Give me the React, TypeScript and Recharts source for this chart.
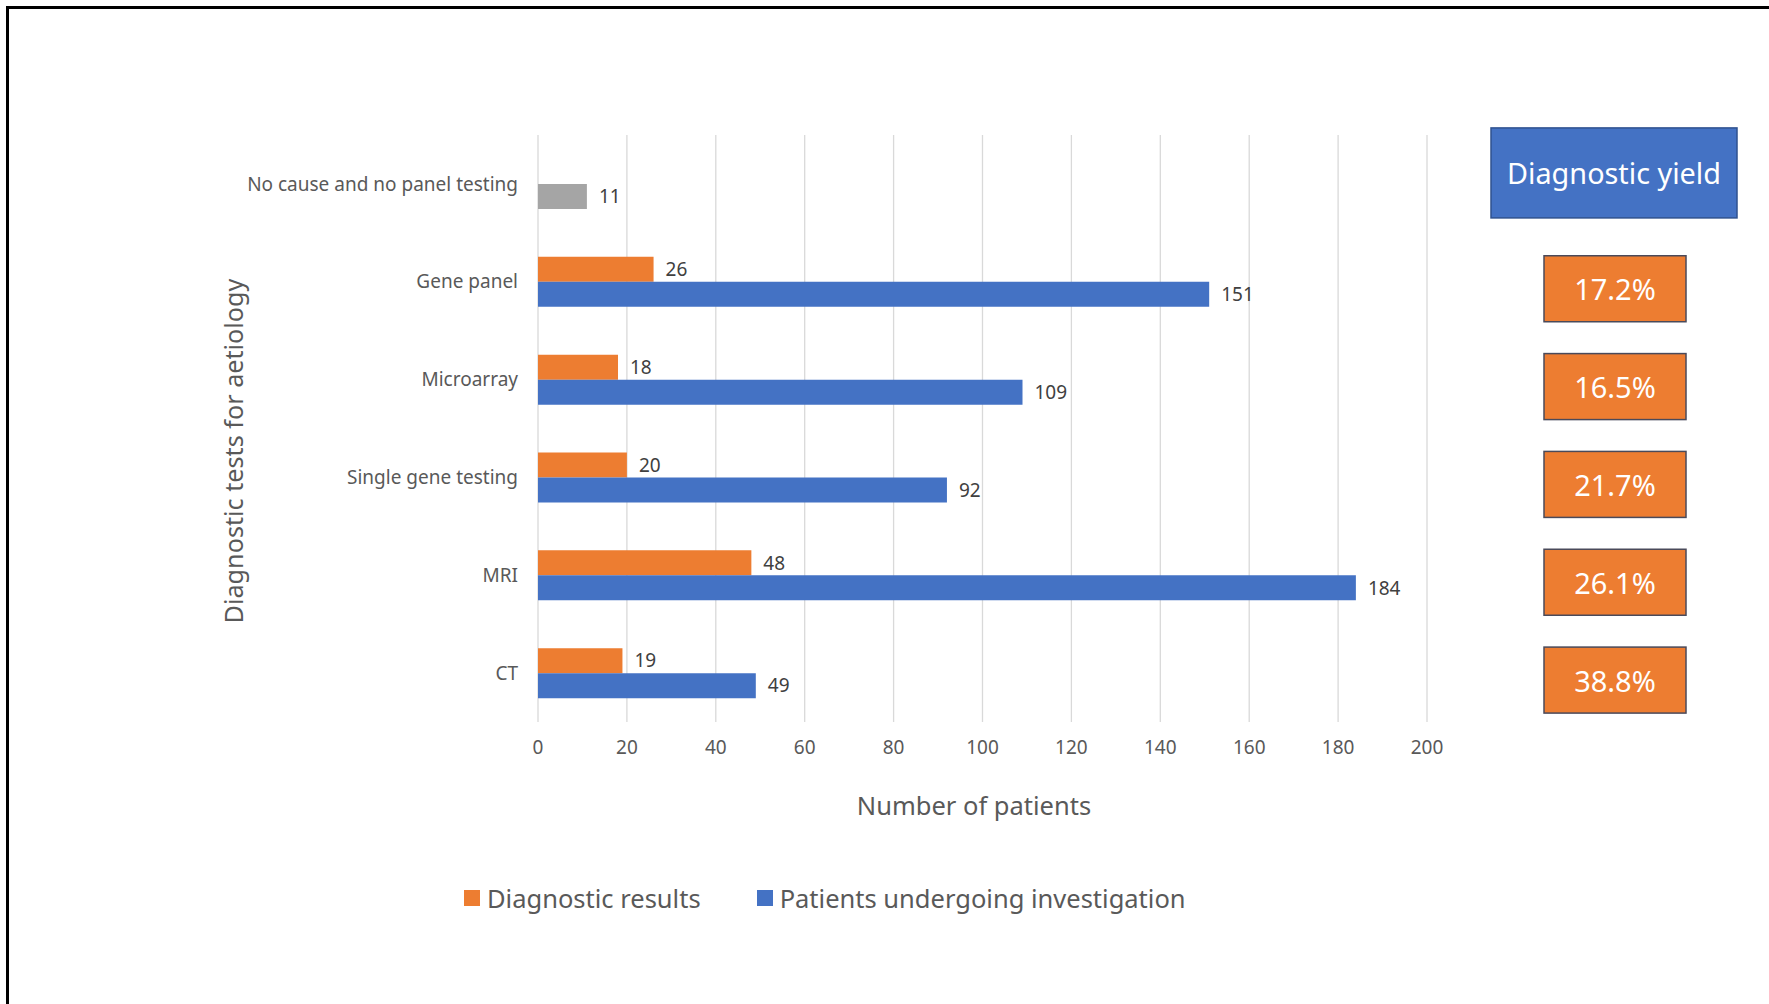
import React from "react";
import {
  BarChart,
  Bar,
  XAxis,
  YAxis,
  CartesianGrid,
  Cell,
  LabelList,
  Legend,
  Label,
} from "recharts";

const categories = [
  "No cause and no panel testing",
  "Gene panel",
  "Microarray",
  "Single gene testing",
  "MRI",
  "CT",
];
const diagnosticResults = [null, 26, 18, 20, 48, 19];
const patientsInvestigated = [11, 151, 109, 92, 184, 49];
const yieldLabels = ["Diagnostic yield", "17.2%", "16.5%", "21.7%", "26.1%", "38.8%"];
const xTicks = [0, 20, 40, 60, 80, 100, 120, 140, 160, 180, 200];

const ORANGE = "#ED7D31";
const BLUE = "#4472C4";
const GREY = "#A5A5A5";
const TEXT = "#595959";
const FONT = "'Noto Sans', sans-serif";

const data = categories.map((name, i) => ({
  name,
  results: diagnosticResults[i],
  patients: patientsInvestigated[i],
}));

// boxes on the right: header for the first row, yield % for the rest
const YieldTick = (props: any) => {
  const { x, y, payload } = props;
  const i = categories.indexOf(payload.value);
  if (i < 0) return null;
  if (i === 0) {
    return (
      <g>
        <rect x={x + 64} y={y - 56} width={246} height={90} fill={BLUE} stroke="#2F528F" strokeWidth={1.5} />
        <text x={x + 187} y={y - 11} textAnchor="middle" dominantBaseline="central" fill="#fff" fontSize={28.8} fontFamily={FONT}>
          {yieldLabels[i]}
        </text>
      </g>
    );
  }
  return (
    <g>
      <rect x={x + 117} y={y - 26} width={142} height={66} fill={ORANGE} stroke="#4a4a5a" strokeWidth={1.5} />
      <text x={x + 188} y={y + 7} textAnchor="middle" dominantBaseline="central" fill="#fff" fontSize={29} fontFamily={FONT}>
        {yieldLabels[i]}
      </text>
    </g>
  );
};

const LegendContent = () => (
  <div style={{ display: "flex", alignItems: "center", fontFamily: FONT, fontSize: 25.5, color: TEXT }}>
    <span style={{ width: 16, height: 16, background: ORANGE, marginRight: 7 }} />
    <span style={{ marginRight: 56 }}>Diagnostic results</span>
    <span style={{ width: 16, height: 16, background: BLUE, marginRight: 7 }} />
    <span>Patients undergoing investigation</span>
  </div>
);

const App = () => {
  return (
    <div style={{ position: "absolute", left: 0, top: 0, width: 1769, height: 1004, background: "#fff" }}>
      <div
        style={{
          position: "absolute",
          left: 6,
          top: 6,
          width: 1763,
          height: 998,
          borderTop: "3px solid #000",
          borderLeft: "3px solid #000",
          boxSizing: "border-box",
        }}
      />
      <div style={{ position: "absolute", left: 0, top: 0 }}>
        <BarChart
          width={1769}
          height={1004}
          data={data}
          layout="vertical"
          barSize={25}
          barGap={0}
          margin={{ top: 135, right: 42, bottom: 242, left: 150 }}
        >
          <CartesianGrid horizontal={false} stroke="#d9d9d9" strokeWidth={1.3} />
          <XAxis
            type="number"
            domain={[0, 200]}
            ticks={xTicks}
            axisLine={false}
            tickLine={false}
            tickMargin={13}
            height={40}
            tick={{ fill: TEXT, fontSize: 19, fontFamily: FONT }}
          >
            <Label
              content={(p: any) => {
                const vb = p.viewBox;
                return (
                  <text x={974} y={vb.y + 83} textAnchor="middle" dominantBaseline="central" fill={TEXT} fontSize={25.5} fontFamily={FONT}>
                    Number of patients
                  </text>
                );
              }}
            />
          </XAxis>
          <YAxis
            type="category"
            dataKey="name"
            width={388}
            axisLine={false}
            tickLine={false}
            tickMargin={14}
            tick={{ fill: TEXT, fontSize: 19, fontFamily: FONT }}
          >
            <Label
              content={() => (
                <text
                  x={233}
                  y={451}
                  transform="rotate(-90 233 451)"
                  textAnchor="middle"
                  dominantBaseline="central"
                  fill={TEXT}
                  fontSize={25.2}
                  fontFamily={FONT}
                >
                  Diagnostic tests for aetiology
                </text>
              )}
            />
          </YAxis>
          <YAxis
            yAxisId="yield"
            orientation="right"
            type="category"
            dataKey="name"
            width={300}
            axisLine={false}
            tickLine={false}
            tickSize={0}
            tickMargin={0}
            tick={<YieldTick />}
          />
          <Legend
            layout="horizontal"
            verticalAlign="middle"
            align="center"
            wrapperStyle={{ top: 881, left: 464, width: "auto" }}
            content={<LegendContent />}
          />
          <Bar dataKey="results" name="Diagnostic results" fill={ORANGE} isAnimationActive={false}>
            <LabelList dataKey="results" position="right" offset={12} fill="#404040" fontSize={19} fontFamily={FONT} />
          </Bar>
          <Bar dataKey="patients" name="Patients undergoing investigation" fill={BLUE} isAnimationActive={false}>
            {data.map((d, i) => (
              <Cell key={d.name} fill={i === 0 ? GREY : BLUE} />
            ))}
            <LabelList dataKey="patients" position="right" offset={12} fill="#404040" fontSize={19} fontFamily={FONT} />
          </Bar>
        </BarChart>
      </div>
    </div>
  );
};

export default App;
